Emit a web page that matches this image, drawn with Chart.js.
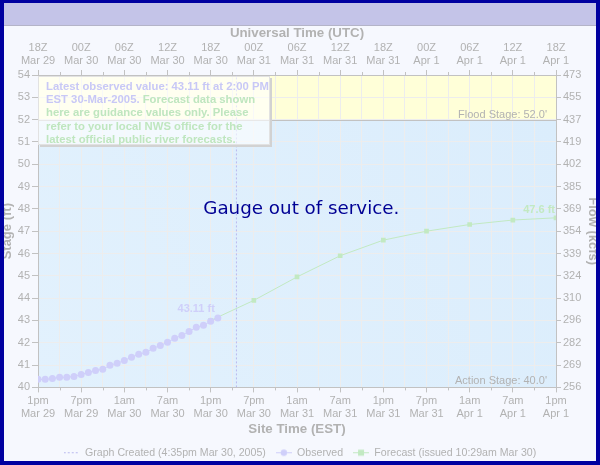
<!DOCTYPE html>
<html><head><meta charset="utf-8">
<script src="https://cdn.jsdelivr.net/npm/chart.js@4.4.1/dist/chart.umd.min.js"></script>
<style>
html,body{margin:0;padding:0;background:#f6f8fe;}
#wrap{position:relative;width:600px;height:465px;overflow:hidden;background:#f6f8fe;}
#titlebar{position:absolute;left:0;top:0;width:600px;height:26px;background:#c4c4e8;border-bottom:1px solid #b4b4c8;box-sizing:border-box;}
#c{position:absolute;left:0;top:0;}
#note{position:absolute;left:38px;top:76px;width:232px;height:69px;box-sizing:border-box;background:rgba(255,255,255,0.62);
  border:1px solid #e2e2e2;box-shadow:2px 2px 0 #d2d2d2;padding:3px 0 0 7px;
  font:bold 11.3px "Liberation Sans",Arial,sans-serif;line-height:13.2px;color:#bfe6bf;white-space:nowrap;}
#note .obs{color:#c8c8f6;}
#frame{position:absolute;left:0;top:0;width:600px;height:465px;box-sizing:border-box;border:4px solid #0000a0;border-top-width:3px;pointer-events:none;}
</style></head>
<body><div id="wrap">
<div id="titlebar"></div>
<canvas id="c" width="600" height="465"></canvas>
<div id="note"><span class="obs">Latest observed value: 43.11 ft at 2:00 PM<br>EST 30-Mar-2005.</span> Forecast data shown<br>here are guidance values only. Please<br>refer to your local NWS office for the<br>latest official public river forecasts.</div>
<div id="frame"></div>
</div>
<script>
// ---- data ----
const siteTimeLabels = [['1pm','Mar 29'],['7pm','Mar 29'],['1am','Mar 30'],['7am','Mar 30'],['1pm','Mar 30'],['7pm','Mar 30'],['1am','Mar 31'],['7am','Mar 31'],['1pm','Mar 31'],['7pm','Mar 31'],['1am','Apr 1'],['7am','Apr 1'],['1pm','Apr 1']];
const utcLabels = [['18Z','Mar 29'],['00Z','Mar 30'],['06Z','Mar 30'],['12Z','Mar 30'],['18Z','Mar 30'],['00Z','Mar 31'],['06Z','Mar 31'],['12Z','Mar 31'],['18Z','Mar 31'],['00Z','Apr 1'],['06Z','Apr 1'],['12Z','Apr 1'],['18Z','Apr 1']];
const flowLabels = ['256','269','282','296','310','324','339','354','369','385','402','419','437','455','473'];
const stageMin = 40, stageMax = 54;
const hourMax = 72;
const obsHours = [0,1,2,3,4,5,6,7,8,9,10,11,12,13,14,15,16,17,18,19,20,21,22,23,24,25];
const obsStage = [40.36,40.36,40.40,40.45,40.45,40.49,40.58,40.67,40.76,40.81,40.99,41.08,41.21,41.35,41.48,41.57,41.75,41.88,42.02,42.20,42.33,42.51,42.69,42.78,42.96,43.11];
const fcstHours = [24,30,36,42,48,54,60,66,72];
const fcstStage = [43.0,43.9,44.95,45.9,46.6,47.0,47.3,47.5,47.6];
const createdHour = 27.58;
const floodStage = 52.0, actionStage = 40.0;

const GRAY = '#b2b2b2', AX = '#c2c2c2';
const OBS = '#cfcffa', FC = '#c2e9c2', CRT = '#b9b9ee';
Chart.defaults.font.family = '"Liberation Sans", Arial, sans-serif';
Chart.defaults.font.size = 11;
Chart.defaults.color = GRAY;

function icon(color, style, dashed){
  const c = document.createElement('canvas'); c.width = 16; c.height = 9;
  const g = c.getContext('2d');
  g.strokeStyle = color; g.fillStyle = color; g.lineWidth = 1;
  if (dashed) g.setLineDash([2,2]);
  g.beginPath(); g.moveTo(0,4.5); g.lineTo(16,4.5); g.stroke();
  if (style === 'circle'){ g.beginPath(); g.arc(8,4.5,3.2,0,Math.PI*2); g.fill(); }
  if (style === 'rect'){ g.fillRect(5,1.5,6,6); }
  return c;
}
const icons = [icon(CRT,null,true), icon(OBS,'circle'), icon(FC,'rect')];
const tickVals = []; for (let h = 0; h <= hourMax; h += 3) tickVals.push(h);

const bgPlugin = {
  id:'bg',
  beforeDraw(chart){
    const {ctx, chartArea:a, scales:{y}} = chart;
    const yf = y.getPixelForValue(floodStage);
    ctx.save();
    ctx.fillStyle = '#ffffd8'; ctx.fillRect(a.left, a.top, a.right-a.left, yf-a.top);
    const g = ctx.createLinearGradient(a.left, a.bottom, a.right, yf);
    g.addColorStop(0,'#e2f1fd'); g.addColorStop(1,'#dbedfc');
    ctx.fillStyle = g; ctx.fillRect(a.left, yf, a.right-a.left, a.bottom-yf);
    ctx.restore();
  },
  beforeDatasetsDraw(chart){
    const {ctx, chartArea:a, scales:{x,y}} = chart;
    const yf = Math.round(y.getPixelForValue(floodStage))+0.5;
    ctx.save();
    ctx.strokeStyle = AX; ctx.lineWidth = 1;
    ctx.beginPath(); ctx.moveTo(a.left, yf); ctx.lineTo(a.right, yf); ctx.stroke();
    ctx.fillStyle = GRAY; ctx.font = '11px "Liberation Sans", Arial, sans-serif';
    ctx.textAlign = 'right'; ctx.textBaseline = 'middle';
    ctx.fillText("Flood Stage: " + floodStage.toFixed(1) + "'", a.right-9, yf-6);
    ctx.fillText("Action Stage: " + actionStage.toFixed(1) + "'", a.right-9, y.getPixelForValue(actionStage)-6);
    // minor ticks
    ctx.strokeStyle = AX;
    tickVals.forEach((h,i) => {
      if (i % 2 === 0) return;
      const px = Math.round(x.getPixelForValue(h))+0.5;
      ctx.beginPath(); ctx.moveTo(px, a.bottom); ctx.lineTo(px, a.bottom+3); ctx.stroke();
      ctx.beginPath(); ctx.moveTo(px, a.top-3); ctx.lineTo(px, a.top); ctx.stroke();
    });
    // gauge message
    ctx.fillStyle = '#000094'; ctx.font = '18.3px "DejaVu Sans", Verdana, sans-serif';
    ctx.textAlign = 'center'; ctx.textBaseline = 'alphabetic';
    ctx.fillText('Gauge out of service.', 301.3, 214);
    ctx.restore();
  },
  afterDatasetsDraw(chart){
    const {ctx, scales:{x,y}} = chart;
    ctx.save();
    ctx.font = 'bold 11px "Liberation Sans", Arial, sans-serif';
    ctx.textAlign = 'right'; ctx.textBaseline = 'middle';
    const lo = obsStage.length-1;
    ctx.fillStyle = OBS;
    ctx.fillText(obsStage[lo].toFixed(2)+' ft', x.getPixelForValue(obsHours[lo])-3, y.getPixelForValue(obsStage[lo])-9.5);
    const lf = fcstStage.length-1;
    ctx.fillStyle = FC;
    ctx.fillText(fcstStage[lf].toFixed(1)+' ft', x.getPixelForValue(fcstHours[lf])-1, y.getPixelForValue(fcstStage[lf])-8);
    ctx.restore();
  }
};

const xTickColor = c => (c.index % 2 ? 'rgba(0,0,0,0)' : AX);

new Chart(document.getElementById('c'), {
  type:'line',
  data:{datasets:[
    {label:'Graph Created (4:35pm Mar 30, 2005)', data:[{x:createdHour,y:stageMin},{x:createdHour,y:stageMax}],
      borderColor:CRT, borderWidth:1, borderDash:[2,2], pointRadius:0, fill:false},
    {label:'Observed', data:obsHours.map((h,i)=>({x:h,y:obsStage[i]})),
      borderColor:OBS, backgroundColor:OBS, borderWidth:1, pointRadius:3.5, pointStyle:'circle', pointBorderWidth:0, fill:false},
    {label:'Forecast (issued 10:29am Mar 30)', data:fcstHours.map((h,i)=>({x:h,y:fcstStage[i]})),
      borderColor:FC, backgroundColor:FC, borderWidth:1, pointRadius:3.3, pointStyle:'rect', pointBorderWidth:0, fill:false}
  ]},
  options:{
    responsive:false, animation:false, events:[],
    layout:{padding:{left:0,right:0,top:0,bottom:-3}},
    plugins:{
      tooltip:{enabled:false},
      legend:{position:'bottom', labels:{usePointStyle:true, pointStyleWidth:16, padding:10, color:GRAY,
        font:{size:10.6},
        generateLabels: chart => chart.data.datasets.map((d,i)=>({text:d.label, pointStyle:icons[i], fillStyle:'rgba(0,0,0,0)', strokeStyle:'rgba(0,0,0,0)', lineWidth:0, hidden:false, datasetIndex:i, fontColor:GRAY}))}}
    },
    scales:{
      x:{type:'linear', position:'bottom', min:0, max:hourMax,
        afterBuildTicks: s => { s.ticks = tickVals.map(v=>({value:v})); },
        afterFit: s => { s.height = 50; },
        ticks:{autoSkip:false, maxRotation:0, padding:2, color:GRAY,
          callback:(v,i)=> i%2 ? '' : siteTimeLabels[i/2]},
        grid:{color:'#ededed', tickLength:5, tickColor:xTickColor},
        border:{color:AX},
        title:{display:true, text:'Site Time (EST)', color:GRAY, font:{size:13.3, weight:'bold'}, padding:{top:0,bottom:0}}
      },
      x2:{type:'linear', position:'top', min:0, max:hourMax,
        afterBuildTicks: s => { s.ticks = tickVals.map(v=>({value:v})); },
        afterFit: s => { s.height = 75; },
        ticks:{autoSkip:false, maxRotation:0, padding:2, color:GRAY,
          callback:(v,i)=> i%2 ? '' : utcLabels[i/2]},
        grid:{drawOnChartArea:false, tickLength:5, tickColor:xTickColor},
        border:{color:AX},
        title:{display:true, text:'Universal Time (UTC)', color:GRAY, font:{size:13.3, weight:'bold'}, padding:{top:25,bottom:0}}
      },
      y:{type:'linear', position:'left', min:stageMin, max:stageMax,
        afterFit: s => { s.width = 38; },
        ticks:{stepSize:1, autoSkip:false, padding:2, color:GRAY},
        grid:{color:'#ededed', tickLength:6, tickColor:AX},
        border:{color:AX},
        title:{display:true, text:'Stage (ft)', color:GRAY, font:{size:13, weight:'bold'}, padding:{top:0,bottom:0}}
      },
      y2:{type:'linear', position:'right', min:stageMin, max:stageMax,
        afterFit: s => { s.width = 44; },
        ticks:{stepSize:1, autoSkip:false, padding:2, color:GRAY,
          callback:v => flowLabels[Math.round(v-stageMin)]},
        grid:{drawOnChartArea:false, tickLength:5, tickColor:AX},
        border:{color:AX},
        title:{display:true, text:'Flow (kcfs)', color:GRAY, font:{size:13, weight:'bold'}, padding:{top:0,bottom:0}}
      }
    }
  },
  plugins:[bgPlugin]
});
</script>
</body></html>
